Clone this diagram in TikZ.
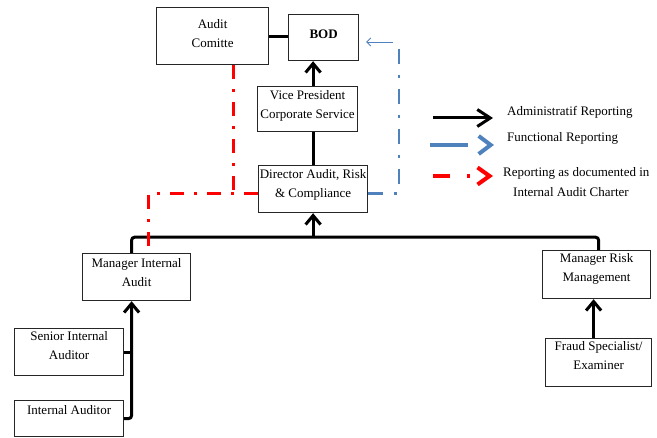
\documentclass[tikz,border=0pt]{standalone}
\usepackage{fontspec}
\setmainfont{Liberation Serif}
\usetikzlibrary{arrows.meta,positioning}
\definecolor{repred}{HTML}{FF0000}
\definecolor{funblue}{HTML}{4F81BD}
\newcommand{\twoline}[2]{\begin{tabular}[t]{@{}c@{}}#1\\#2\end{tabular}}
\tikzset{
  box/.style={draw=black!85,line width=1.2pt,fill=white,inner sep=0pt,anchor=north west},
  bsize/.style n args={3}{minimum width=#1,text height=#2,text depth=#3},
  adm/.style={draw=black,line width=3pt,-{Straight Barb[length=9pt,width=15pt]}},
  admline/.style={draw=black,line width=3pt},
  rep/.style={draw=repred,line width=3pt,dash pattern=on 14pt off 10pt on 3pt off 10pt},
  fnc/.style={draw=funblue,line width=2.6pt,dash pattern=on 15pt off 11pt on 3pt off 11pt},
  fncthin/.style={draw=funblue,line width=0.9pt,-{Straight Barb[length=4pt,width=8pt]}},
  legtxt/.style={anchor=base west,inner sep=0pt},
}

\begin{document}
\begin{tikzpicture}[x=1pt,y=-1pt,every node/.style={font=\fontsize{13}{19}\selectfont}]
\useasboundingbox (0,0) rectangle (657,438);
% boxes
\node[box,bsize={112pt}{21pt}{36pt}] (audit) at (156,7) {\twoline{Audit}{Comitte}};
\node[box,bsize={70pt}{24pt}{22pt}] (bod) at (288,14) {\textbf{BOD}};
\node[box,bsize={100pt}{13pt}{32pt}] (vp) at (257,86) {\twoline{Vice President}{Corporate Service}};
\node[box,bsize={109pt}{13pt}{34pt}] (dir) at (258,165) {\twoline{Director Audit, Risk}{\& Compliance}};
\node[box,bsize={108pt}{14pt}{33pt}] (mia) at (82,253) {\twoline{Manager Internal}{Audit}};
\node[box,bsize={108pt}{12pt}{36pt}] (mrm) at (542,250) {\twoline{Manager Risk}{Management}};
\node[box,bsize={109pt}{12pt}{35pt}] (sia) at (14,328) {\twoline{Senior Internal}{Auditor}};
\node[box,bsize={109pt}{14pt}{22pt}] (ia) at (14,400) {Internal Auditor};
\node[box,bsize={106pt}{12pt}{36pt}] (fraud) at (545,338) {\twoline{Fraud Specialist/}{Examiner}};

% administrative lines
\draw[admline] (audit.east) -- (audit.east -| bod.west);
\draw[adm] (vp.north -| dir.north) -- (bod.south -| dir.north);
\draw[admline] (dir.north) -- (vp.south -| dir.north);
\coordinate (bus) at ([yshift=-24pt]dir.south);
\draw[admline,rounded corners=3pt] ([xshift=-5pt]mia.north) |- (bus) -| ([xshift=2pt]mrm.north);
\draw[adm] (bus) -- (dir.south);
\coordinate (spine) at ([xshift=-5pt]mia.south);
\draw[adm,rounded corners=3pt] (ia.east) -| (spine);
\draw[admline] (sia.east) -- (sia.east -| spine);
\draw[adm] ([xshift=-5pt]fraud.north) -- ([xshift=-5pt]fraud.north |- mrm.south);

% charter reporting
\coordinate (redrow) at ([yshift=-4.5pt]dir.west);
\draw[rep] (redrow) -| ([xshift=12pt]mia.north);
\draw[rep] ([xshift=21pt]audit.south) -- ([xshift=21pt]audit.south |- redrow);

% functional reporting
\coordinate (bluerow) at ([yshift=-4.5pt]dir.east);
\coordinate (fcorner) at (399,42);
\draw[fnc] (bluerow) -| (fcorner);
\draw[fncthin,shorten >=7pt] ([xshift=-6pt]fcorner) -- (bod.east |- fcorner);

% legend
\coordinate (ka) at (433,118); \coordinate (kb) at (493,118);
\draw[adm,-{Straight Barb[length=13pt,width=17pt]}] (ka) -- (kb);
\node[legtxt] (tadm) at (507,116) {Administratif Reporting};
\coordinate (fa) at (430,145); \coordinate (fb) at (494,145);
\draw[draw=funblue,line width=4pt,dash pattern=on 38pt off 30pt,-{Straight Barb[length=12pt,width=18pt]}] (fa) -- (fb);
\node[legtxt] (tfun) at (507,142) {Functional Reporting};
\coordinate (ra) at (433,176); \coordinate (rb) at (493,176);
\draw[draw=repred,line width=4pt,dash pattern=on 17pt off 17pt on 3pt off 30pt,-{Straight Barb[length=12pt,width=17pt]}] (ra) -- (rb);
\node[legtxt] (trep) at (503,177) {Reporting as documented in};
\node[legtxt] (trep2) at (513,197) {Internal Audit Charter};
\end{tikzpicture}
\end{document}
